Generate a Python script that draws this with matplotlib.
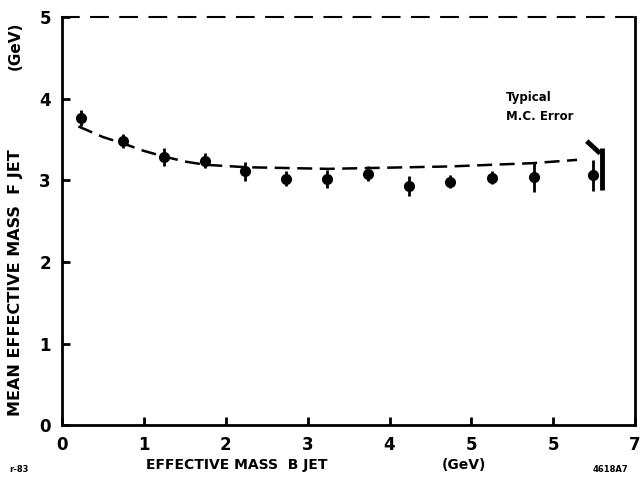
import matplotlib.pyplot as plt
import numpy as np

# mean effective mass of the F jet vs effective mass of the B jet
x_data = [0.23, 0.74, 1.25, 1.75, 2.24, 2.74, 3.24, 3.74, 4.24, 4.74, 5.25, 5.76, 6.49]
y_data = [3.76, 3.48, 3.29, 3.24, 3.11, 3.02, 3.01, 3.08, 2.93, 2.98, 3.03, 3.04, 3.06]
y_err = [0.10, 0.09, 0.11, 0.09, 0.12, 0.09, 0.11, 0.09, 0.12, 0.08, 0.08, 0.18, 0.19]

# dashed Monte Carlo curve
x_mc = [0.2, 0.5, 0.75, 1.0, 1.25, 1.5, 1.75, 2.25, 2.75, 3.25, 3.75, 4.25, 4.75, 5.25, 5.75, 6.29]
y_mc = [3.66, 3.53, 3.45, 3.36, 3.29, 3.23, 3.19, 3.16, 3.15, 3.14, 3.15, 3.16, 3.17, 3.19, 3.21, 3.25]

# typical M.C. error bar
mc_err_x = 6.6
mc_err_lo = 2.88
mc_err_hi = 3.40

x_ticks = [0, 1, 2, 3, 4, 5, 6, 7]
x_ticklabels = ['0', '1', '2', '3', '4', '5', '5', '7']
y_ticks = [0, 1, 2, 3, 4, 5]

fig = plt.figure(figsize=(6.44, 4.87), dpi=100)
ax = fig.add_axes([0.0963, 0.127, 0.89, 0.838])

ax.plot(x_mc, y_mc, color='black', linestyle=(0, (6, 3)), linewidth=1.8)
ax.errorbar(x_data, y_data, yerr=y_err, fmt='o', color='black', markersize=7,
            elinewidth=2, capsize=0)

ax.vlines(mc_err_x, mc_err_lo, mc_err_hi, color='black', linewidth=3.5)
ax.plot([6.43, 6.55], [3.46, 3.35], color='black', linewidth=3.5)

ax.text(5.42, 3.97, 'Typical', fontsize=8.5, fontweight='bold')
ax.text(5.42, 3.74, 'M.C. Error', fontsize=8.5, fontweight='bold')

ax.set_xlim(0, 7)
ax.set_ylim(0, 5)
ax.set_xticks(x_ticks)
ax.set_xticklabels(x_ticklabels)
ax.set_yticks(y_ticks)
ax.tick_params(axis='both', direction='in', length=6, width=2, labelsize=12, pad=8)
for lab in ax.get_xticklabels() + ax.get_yticklabels():
    lab.set_fontweight('bold')

for s in ['left', 'bottom', 'right']:
    ax.spines[s].set_linewidth(2)
ax.spines['top'].set_linestyle((0, (8, 6)))
ax.spines['top'].set_linewidth(1.5)

# axis titles placed by hand, like the scan
fig.text(0.368, 0.036, 'EFFECTIVE MASS  B JET', fontsize=10, fontweight='bold', ha='center')
fig.text(0.72, 0.036, '(GeV)', fontsize=10, fontweight='bold', ha='center')
fig.text(0.024, 0.42, 'MEAN EFFECTIVE MASS  F JET', fontsize=11.5, fontweight='bold',
         rotation=90, ha='center', va='center')
fig.text(0.024, 0.905, '(GeV)', fontsize=11, fontweight='bold',
         rotation=90, ha='center', va='center')

fig.text(0.015, 0.03, 'r-83', fontsize=6, fontweight='bold')
fig.text(0.92, 0.03, '4618A7', fontsize=6, fontweight='bold')

fig.savefig('out.png', dpi=100)
